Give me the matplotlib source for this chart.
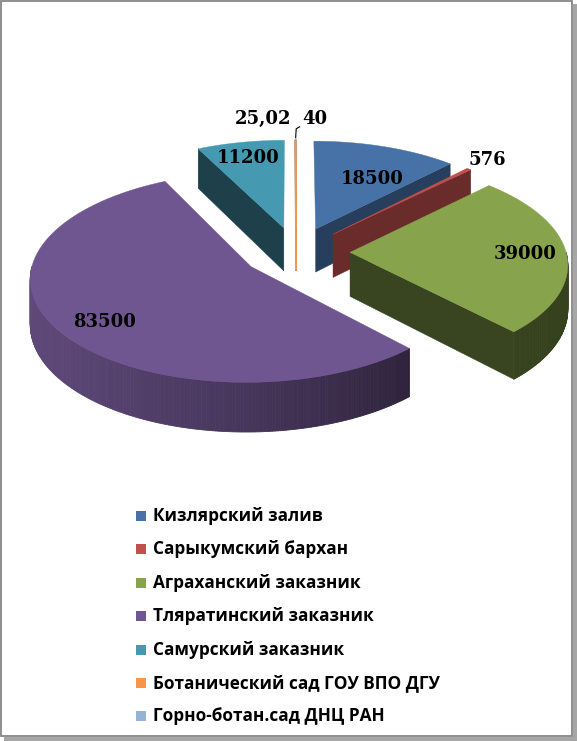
import numpy as np
import matplotlib
matplotlib.use('Agg')
import matplotlib.pyplot as plt
from matplotlib.patches import Polygon, Rectangle

# data
names = ['Кизлярский залив', 'Сарыкумский бархан', 'Аграханский заказник',
         'Тляратинский заказник', 'Самурский заказник',
         'Ботанический сад ГОУ ВПО ДГУ', 'Горно-ботан.сад ДНЦ РАН']
values = [18500, 576, 39000, 83500, 11200, 25.02, 40]
value_labels = ['18500', '576', '39000', '83500', '11200', '25,02', '40']
colors = ['#4672A8', '#C0504D', '#87A34C', '#705690', '#4599B1', '#F79646', '#95B3D7']

# layout (pixels)
W, H = 577, 741
cx, cy = 296, 252
rx, ry = 216, 101
depth = 44
pers = 0.1
explode = 0.25
label_r = [0.62, 1.15, 0.81, 0.8, 0.8, None, None]
label_turn = [6, 0, 0, -4, 0, 0, 0]   # degrees, nudge label around the slice

fig = plt.figure(figsize=(W / 100, H / 100), dpi=100)
ax = fig.add_axes([0, 0, 1, 1])
ax.set_xlim(0, W)
ax.set_ylim(H, 0)
ax.axis('off')


def proj(u, v, z=0.0):
    s = 1.0 / (1.0 - pers * v)
    return cx + rx * u * s, cy + (ry * v + depth * z) * s


def shade(c, k):
    r, g, b = matplotlib.colors.to_rgb(c)
    return (r * k, g * k, b * k)


def wall_k(t):
    x = np.clip((t - 135) / 135.0, 0, 1)
    return 0.4 + 0.45 * np.sin(x * np.pi / 2)


total = sum(values)
angles = np.cumsum([0] + [v / total * 360 for v in values])

slices = []
for i in range(len(values)):
    t1, t2 = angles[i], angles[i + 1]
    mid = np.radians((t1 + t2) / 2)
    ou, ov = explode * np.sin(mid), -explode * np.cos(mid)
    slices.append((ov, i, t1, t2, ou))

# back to front
for ov, i, t1, t2, ou in sorted(slices):
    col = colors[i]
    tiny = (t2 - t1) < 0.5
    lw = 0.9 if tiny else 0.3
    th = np.linspace(t1, t2, max(int((t2 - t1) * 2), 2))
    us = ou + np.sin(np.radians(th))
    vs = ov - np.cos(np.radians(th))
    top = [proj(u, v) for u, v in zip(us, vs)]
    bot = [proj(u, v, 1) for u, v in zip(us, vs)]
    apex_t = proj(ou, ov)
    apex_b = proj(ou, ov, 1)

    # radial faces
    if np.sin(np.radians(t1)) < 0:
        c = shade(col, 0.42)
        ax.add_patch(Polygon([apex_t, top[0], bot[0], apex_b], closed=True,
                             fc=c, ec=c, lw=lw))
    if np.sin(np.radians(t2)) > 0 or tiny:
        c = shade(col, 0.42 if t2 > 90 else 0.55)
        ax.add_patch(Polygon([apex_t, top[-1], bot[-1], apex_b], closed=True,
                             fc=c, ec=col if tiny else c, lw=lw))

    # outer wall, front facing part only
    a, b = max(t1, 90), min(t2, 270)
    if b > a:
        tw = np.linspace(a, b, max(int((b - a) * 1.5), 2))
        for k in range(len(tw) - 1):
            p = []
            for t in (tw[k], tw[k + 1]):
                p.append((ou + np.sin(np.radians(t)), ov - np.cos(np.radians(t))))
            c = shade(col, wall_k((tw[k] + tw[k + 1]) / 2))
            ax.add_patch(Polygon([proj(*p[0]), proj(*p[1]), proj(*p[1], 1), proj(*p[0], 1)],
                                 closed=True, fc=c, ec=c, lw=0.6))

    # top face
    ax.add_patch(Polygon([apex_t] + top, closed=True, fc=col, ec=col, lw=lw))

# value labels
lab_font = dict(family='DejaVu Serif', weight='bold', fontsize=13, color='black')
for i in range(5):
    t1, t2 = angles[i], angles[i + 1]
    mid = np.radians((t1 + t2) / 2)
    lm = mid + np.radians(label_turn[i])
    f = label_r[i]
    x, y = proj(explode * np.sin(mid) + f * np.sin(lm), -explode * np.cos(mid) - f * np.cos(lm))
    ax.text(x, y, value_labels[i], ha='center', va='center', **lab_font)

# tiny slices: labels with leader
mid = np.radians((angles[5] + angles[7]) / 2)
tx, ty = proj((explode + 1) * np.sin(mid), -(explode + 1) * np.cos(mid))
ax.plot([tx, tx + 0.5, tx + 4], [ty - 2, ty - 11, ty - 13], color='black', lw=0.8)
ax.text(tx - 4, ty - 21, value_labels[5], ha='right', va='center', **lab_font)
ax.text(tx + 7, ty - 21, value_labels[6], ha='left', va='center', **lab_font)

# legend
for i, name in enumerate(names):
    yy = 516 + 33.4 * i
    ax.add_patch(Rectangle((136, yy - 5), 10, 10, fc=colors[i], ec='none'))
    ax.text(153, yy, name, ha='left', va='center', family='Open Sans',
            weight='bold', fontsize=12.4, color='black')

# chart border with shadow
ax.add_patch(Rectangle((4, H - 4), W - 4, 4, fc='#a6a6a6', ec='none'))
ax.add_patch(Rectangle((W - 4, 4), 4, H - 4, fc='#a6a6a6', ec='none'))
ax.add_patch(Rectangle((0.8, 0.8), W - 5.5, H - 5.5, fill=False, ec='#868686', lw=1.3))

fig.savefig('out.png', dpi=100, facecolor='white')
